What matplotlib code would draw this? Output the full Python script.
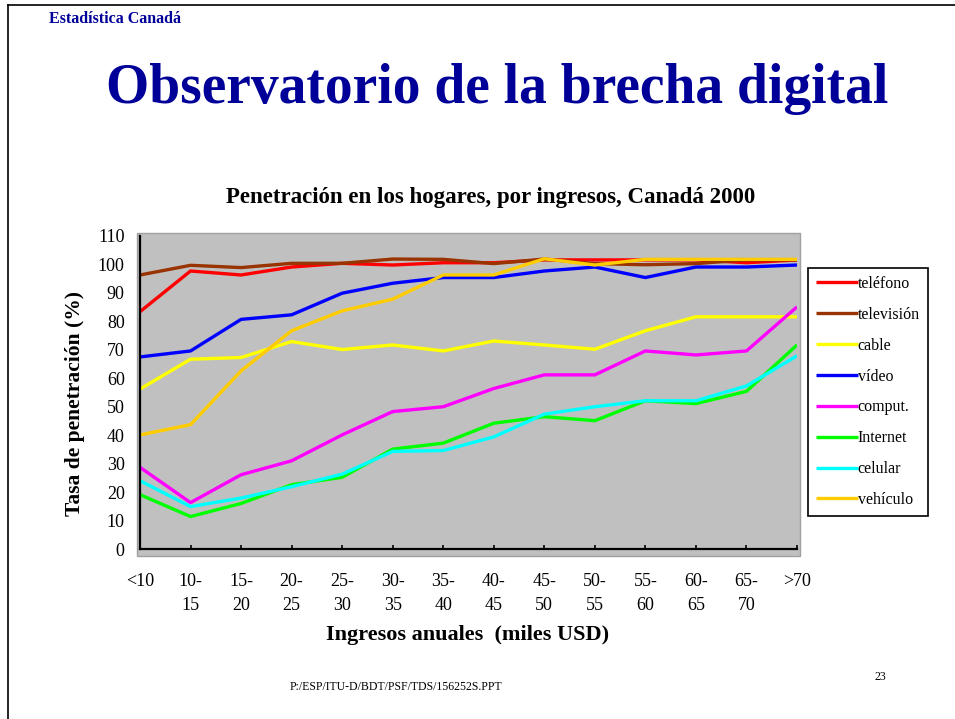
import matplotlib
matplotlib.use("Agg")
import matplotlib.pyplot as plt
from matplotlib.patches import Rectangle
from matplotlib.lines import Line2D

plt.rcParams['font.family'] = ['Liberation Serif', 'DejaVu Serif']

categories = ["<10", "10-\n15", "15-\n20", "20-\n25", "25-\n30", "30-\n35", "35-\n40",
              "40-\n45", "45-\n50", "50-\n55", "55-\n60", "60-\n65", "65-\n70", ">70"]

telefono   = [83.4, 97.7, 96.3, 99.1, 100.4, 99.8, 100.6, 100.6, 101.6, 101.6, 101.6, 101.6, 100.6, 101.6]
television = [96.3, 99.7, 98.9, 100.4, 100.4, 101.9, 101.8, 100.3, 101.9, 100.3, 99.9, 100.3, 101.6, 101.6]
cable      = [56.2, 66.7, 67.3, 72.9, 70.1, 71.7, 69.6, 73.1, 71.7, 70.2, 76.7, 81.6, 81.6, 81.6]
video      = [67.5, 69.6, 80.7, 82.3, 89.9, 93.4, 95.4, 95.4, 97.7, 99.1, 95.4, 99.1, 99.1, 99.8]
comput     = [28.7, 16.3, 26.1, 31.0, 40.1, 48.3, 50.0, 56.4, 61.2, 61.2, 69.6, 68.2, 69.6, 85.1]
internet   = [19.1, 11.4, 16.0, 22.6, 25.2, 35.1, 37.2, 44.2, 46.5, 45.1, 52.1, 51.1, 55.4, 71.7]
celular    = [24.0, 14.9, 17.9, 21.9, 26.3, 34.3, 34.6, 39.4, 47.4, 50.0, 52.1, 52.1, 57.3, 67.9]
vehiculo   = [40.1, 43.7, 62.6, 76.7, 83.7, 87.8, 96.3, 96.3, 102.0, 99.8, 101.8, 101.8, 101.8, 101.8]

series_names = ["teléfono", "televisión", "cable", "vídeo", "comput.", "Internet", "celular", "vehículo"]
series_values = [telefono, television, cable, video, comput, internet, celular, vehiculo]
series_colors = ["#FF0000", "#993300", "#FFFF00", "#0000FF", "#FF00FF", "#00FF00", "#00FFFF", "#FFCC00"]

yticks = list(range(0, 111, 10))

W, H = 955, 719
fig = plt.figure(figsize=(W / 100, H / 100), dpi=100)

def fx(px):
    return px / W

def fy(py):
    return 1 - py / H

# slide frame
fig.add_artist(Line2D([fx(8), fx(8)], [0, fy(5)], color="black", lw=1.2, transform=fig.transFigure))
fig.add_artist(Line2D([fx(8), 1], [fy(5), fy(5)], color="black", lw=1.2, transform=fig.transFigure))

navy = "#000099"
fig.text(fx(49), fy(19), "Estadística Canadá", color=navy, fontsize=11.5, fontweight="bold",
         ha="left", va="center")
fig.text(fx(497), fy(89), "Observatorio de la brecha digital", color=navy, fontsize=40,
         fontweight="bold", ha="center", va="center")

# plot area
left, right, top, bottom = 140, 797, 236, 549
fig.add_artist(Rectangle((fx(137), fy(556)), fx(800) - fx(137), fy(233) - fy(556),
                         transform=fig.transFigure, facecolor="#C0C0C0",
                         edgecolor="#A0A0A0", lw=1.0, zorder=0))

ax = fig.add_axes([fx(left), fy(bottom), fx(right) - fx(left), fy(top) - fy(bottom)])
ax.set_facecolor("none")
x = list(range(len(categories)))
for name, vals, col in zip(series_names, series_values, series_colors):
    ax.plot(x, vals, color=col, lw=2.4, label=name, solid_capstyle="butt")

ax.set_xlim(0, len(categories) - 1)
ax.set_ylim(0, 110)
ax.set_xticks(x)
ax.set_xticklabels(categories, fontsize=13, linespacing=1.6, va="top")
ax.set_yticks(yticks)
ax.set_yticklabels([str(v) for v in yticks], fontsize=13)
ax.tick_params(axis="x", direction="in", length=3, width=1.2, pad=17, colors="black")
ax.tick_params(axis="y", length=0, pad=11)
for s in ["top", "right"]:
    ax.spines[s].set_visible(False)
for s in ["left", "bottom"]:
    ax.spines[s].set_linewidth(1.6)
    ax.spines[s].set_color("black")

fig.text(fx(491), fy(198), "Penetración en los hogares, por ingresos, Canadá 2000",
         fontsize=16.5, fontweight="bold", ha="center", va="center")
fig.text(fx(75), fy(404), "Tasa de penetración (%)", fontsize=15.5, fontweight="bold",
         rotation=90, ha="center", va="center")
fig.text(fx(468), fy(635), "Ingresos anuales  (miles USD)", fontsize=16, fontweight="bold",
         ha="center", va="center")

leg = ax.legend(loc="upper left", bbox_to_anchor=(fx(808), fy(268)), bbox_transform=fig.transFigure,
                fontsize=11.5, frameon=True, fancybox=False, edgecolor="black", framealpha=1,
                handlelength=2.6, handletextpad=0.0, labelspacing=0.93, borderpad=0.5,
                borderaxespad=0)
leg.get_frame().set_linewidth(1.2)

fig.text(fx(396), fy(687), "P:/ESP/ITU-D/BDT/PSF/TDS/156252S.PPT", fontsize=8.5,
         ha="center", va="center")
fig.text(fx(880), fy(677), "23", fontsize=8.5, ha="center", va="center")

fig.savefig("out.png", dpi=100)
